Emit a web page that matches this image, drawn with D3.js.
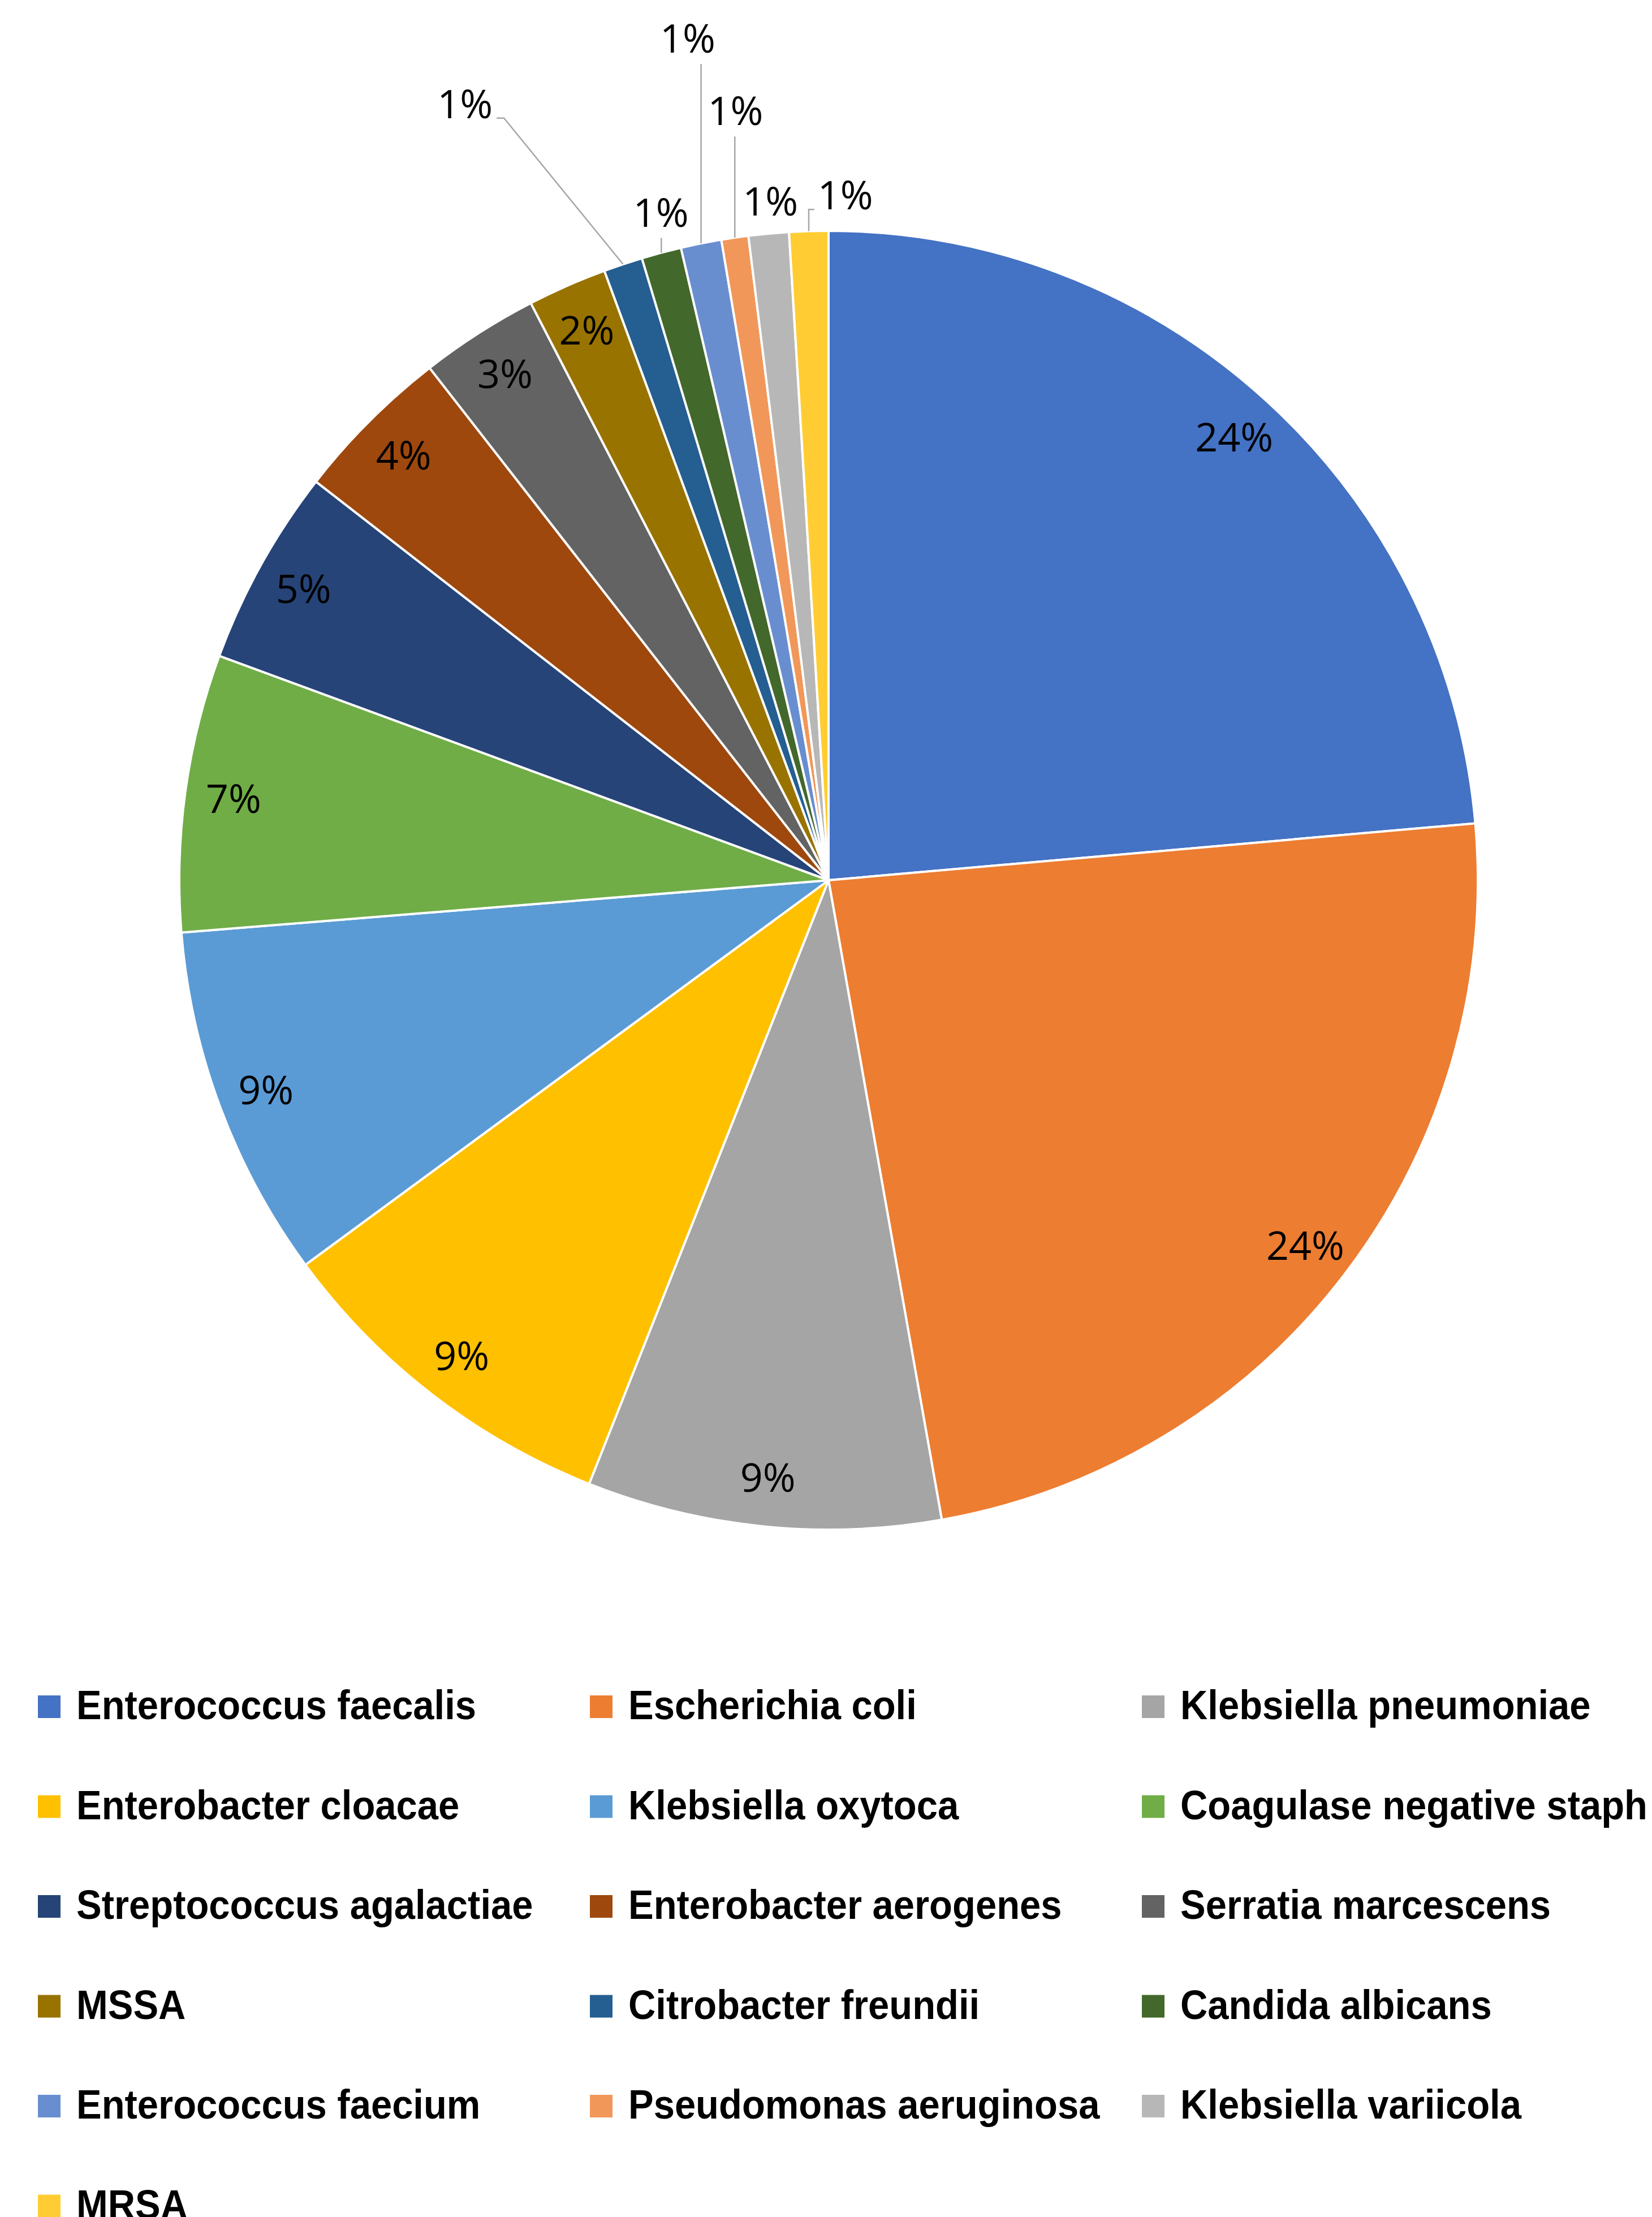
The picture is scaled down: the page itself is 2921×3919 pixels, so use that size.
<!DOCTYPE html>
<html>
<head>
<meta charset="utf-8">
<script src="https://cdn.jsdelivr.net/npm/d3@7"></script>
<style>
  body { margin: 0; background: #fff; }
  svg { display: block; }
</style>
</head>
<body>
<svg id="drawing_region"></svg>
<script>
const organisms = [
    'Enterococcus faecalis', 'Escherichia coli', 'Klebsiella pneumoniae',
    'Enterobacter cloacae', 'Klebsiella oxytoca', 'Coagulase negative staph',
    'Streptococcus agalactiae', 'Enterobacter aerogenes', 'Serratia marcescens',
    'MSSA', 'Citrobacter freundii', 'Candida albicans',
    'Enterococcus faecium', 'Pseudomonas aeruginosa', 'Klebsiella variicola',
    'MRSA'
]
// share of isolates in %
const shares = [23.6, 23.6, 8.8, 8.9, 8.8, 6.9, 4.9, 3.95, 2.95, 1.97, 0.97, 0.99, 1.01, 0.67, 1.0, 0.97]
const colors = [
    '#4472C4', '#ED7D31', '#A5A5A5', '#FFC000', '#5B9BD5', '#70AD47',
    '#264478', '#9E480E', '#636363', '#997300', '#255E91', '#43682B',
    '#698ED0', '#F1975A', '#B7B7B7', '#FFCD33'
]

// labels excel pushed outside the pie: where the text sits (angle in degrees, radius as multiple of r)
const outsideSpots = {
    'Citrobacter freundii':   [334.9, 1.32],
    'Candida albicans':       [345.9, 1.06],
    'Enterococcus faecium':   [350.5, 1.314],
    'Pseudomonas aeruginosa': [353.1, 1.193],
    'Klebsiella variicola':   [355.1, 1.049],
    'MRSA':                   [361.4, 1.055]
}

class PieChart {
    constructor(config, data) {
        this.config = config
        this.data = data
        this.init()
    }

    init() {
        let self = this
        self.svg = d3.select(self.config.parent)
            .attr('width', self.config.width)
            .attr('height', self.config.height)

        self.chart = self.svg.append('g')
            .attr('transform', `translate(${self.config.cx},${self.config.cy})`)

        self.pie = d3.pie().value(d => d.value).sort(null)
        self.arc = d3.arc().innerRadius(0).outerRadius(self.config.r)
        self.total = d3.sum(self.data, d => d.value)
    }

    render() {
        let self = this
        const r = self.config.r
        const arcs = self.pie(self.data)

        self.chart.selectAll('path.slice')
            .data(arcs).join('path')
            .attr('class', 'slice')
            .attr('d', self.arc)
            .attr('fill', d => d.data.color)
            .attr('stroke', '#fff')
            .attr('stroke-width', 4)
            .attr('stroke-linejoin', 'round')

        const pct = d => Math.round(d.data.value / self.total * 100) + '%'
        const labelArc = d3.arc().innerRadius(r * 0.925).outerRadius(r * 0.925)
        const edgeArc = d3.arc().innerRadius(r).outerRadius(r)
        const fs = 70
        const capH = fs * 0.714

        // inside labels
        self.chart.selectAll('text.inside')
            .data(arcs.filter(d => !outsideSpots[d.data.name]))
            .join('text')
            .attr('class', 'inside')
            .attr('x', d => labelArc.centroid(d)[0])
            .attr('y', d => labelArc.centroid(d)[1] + capH / 2)
            .attr('text-anchor', 'middle')
            .attr('font-family', "'Open Sans', 'Noto Sans', sans-serif")
            .attr('font-size', fs)
            .attr('fill', '#000')
            .text(pct)

        // outside labels with leader lines
        const outside = arcs.filter(d => outsideSpots[d.data.name])
        outside.forEach(d => {
            const [deg, k] = outsideSpots[d.data.name]
            const a = deg * Math.PI / 180
            const lx = Math.sin(a) * r * k
            const ly = -Math.cos(a) * r * k
            const t = self.chart.append('text')
                .attr('x', lx)
                .attr('y', ly + capH / 2)
                .attr('text-anchor', 'middle')
                .attr('font-family', "'Open Sans', 'Noto Sans', sans-serif")
                .attr('font-size', fs)
                .attr('fill', '#000')
                .text(pct(d))
            const hw = t.node().getComputedTextLength() / 2
            const [px, py] = edgeArc.centroid(d)
            let path = null
            if (lx + hw < px) {
                path = `M${lx + hw + 7},${ly + 25}H${lx + hw + 20}L${px},${py}`
            } else if (lx - hw > px) {
                path = `M${lx - hw - 6},${ly + 25}H${px}L${px},${py}`
            } else {
                const y0 = ly + capH / 2 + 20
                if (py - y0 > 15) path = `M${px},${y0}V${py}`
            }
            if (path) {
                self.chart.append('path')
                    .attr('d', path)
                    .attr('fill', 'none')
                    .attr('stroke', '#A6A6A6')
                    .attr('stroke-width', 2.5)
            }
        })

        // legend, three columns
        const col = d3.scaleLinear().domain([0, 1]).range([67, 1043])
        const row = d3.scaleLinear().domain([0, 1]).range([2997, 3173.5])
        const items = self.svg.append('g').selectAll('g')
            .data(self.data).join('g')
            .attr('transform', (d, i) => `translate(${col(i % 3)},${row(Math.floor(i / 3))})`)
        items.append('rect')
            .attr('width', 40).attr('height', 40)
            .attr('fill', d => d.color)
        // squeeze a bit, the original face is narrower
        items.append('text')
            .attr('transform', 'translate(68,42) scale(0.93,1)')
            .attr('font-family', "'Liberation Sans Narrow', 'Arial Narrow', 'Liberation Sans', sans-serif")
            .attr('font-weight', 'bold')
            .attr('font-size', 72)
            .attr('fill', '#000')
            .text(d => d.name)
    }
}

const data = organisms.map((name, i) => ({ name: name, value: shares[i], color: colors[i] }))

const config = {
    parent: '#drawing_region',
    width: 2921,
    height: 3919,
    cx: 1465,
    cy: 1556,
    r: 1148
}

const pie_chart = new PieChart(config, data)
pie_chart.render()
</script>
</body>
</html>
